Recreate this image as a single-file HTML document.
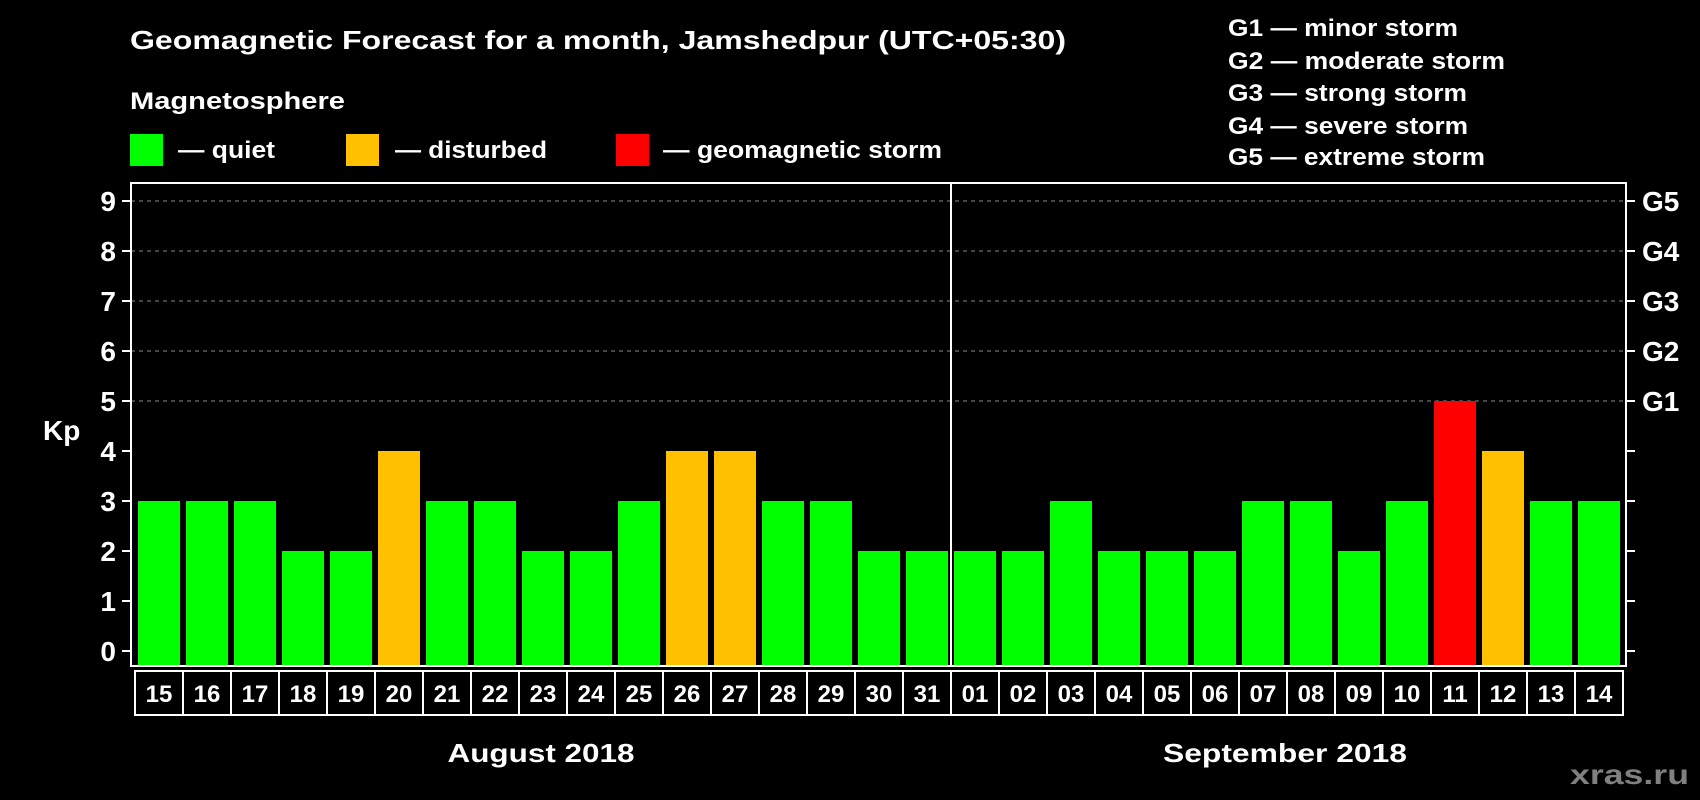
<!DOCTYPE html>
<html><head><meta charset="utf-8"><style>
html,body{margin:0;padding:0;background:#000;}
svg{display:block;font-family:"Liberation Sans",Arial,sans-serif;font-weight:bold;}
</style></head><body>
<svg id="chart" width="1700" height="800" viewBox="0 0 1700 800" xmlns="http://www.w3.org/2000/svg">
<rect width="1700" height="800" fill="#000"/>
<text x="130" y="49" fill="#fff" font-size="26" textLength="936" lengthAdjust="spacingAndGlyphs">Geomagnetic Forecast for a month, Jamshedpur (UTC+05:30)</text>
<text x="130" y="109" fill="#fff" font-size="24" textLength="215" lengthAdjust="spacingAndGlyphs">Magnetosphere</text>
<g><rect x="130" y="134" width="33" height="32" fill="#00ff00"/><text x="178" y="158" fill="#fff" font-size="24" textLength="97" lengthAdjust="spacingAndGlyphs">— quiet</text></g>
<g><rect x="346" y="134" width="33" height="32" fill="#ffc000"/><text x="395" y="158" fill="#fff" font-size="24" textLength="152" lengthAdjust="spacingAndGlyphs">— disturbed</text></g>
<g><rect x="616" y="134" width="33" height="32" fill="#ff0000"/><text x="663" y="158" fill="#fff" font-size="24" textLength="279" lengthAdjust="spacingAndGlyphs">— geomagnetic storm</text></g>
<g fill="#fff" font-size="24">
<text x="1228" y="36" textLength="230" lengthAdjust="spacingAndGlyphs">G1 — minor storm</text>
<text x="1228" y="69" textLength="277" lengthAdjust="spacingAndGlyphs">G2 — moderate storm</text>
<text x="1228" y="101" textLength="239" lengthAdjust="spacingAndGlyphs">G3 — strong storm</text>
<text x="1228" y="134" textLength="240" lengthAdjust="spacingAndGlyphs">G4 — severe storm</text>
<text x="1228" y="165" textLength="257" lengthAdjust="spacingAndGlyphs">G5 — extreme storm</text>
</g>
<g id="grid"></g>
<g id="bars"></g>
<g id="axes"></g>
<text x="43" y="440" fill="#fff" font-size="28">Kp</text>
<text x="541" y="762" fill="#fff" font-size="26" text-anchor="middle" textLength="187" lengthAdjust="spacingAndGlyphs">August 2018</text>
<text x="1285" y="762" fill="#fff" font-size="26" text-anchor="middle" textLength="244" lengthAdjust="spacingAndGlyphs">September 2018</text>
<text x="1570" y="784" fill="#808080" font-size="28" textLength="119" lengthAdjust="spacingAndGlyphs">xras.ru</text>
</svg>
<script>
const days = ["15","16","17","18","19","20","21","22","23","24","25","26","27","28","29","30","31","01","02","03","04","05","06","07","08","09","10","11","12","13","14"];
const kpValues = [3,3,3,2,2,4,3,3,2,2,3,4,4,3,3,2,2,2,2,3,2,2,2,3,3,2,3,5,4,3,3];
const yTicks = [0,1,2,3,4,5,6,7,8,9];
const gLabels = ["G1","G2","G3","G4","G5"];
const gLevels = [5,6,7,8,9];

const NS="http://www.w3.org/2000/svg";
const L=131,R=1626,T=183,B=666;
const Y0=651,UNIT=50;
const X0=138,PITCH=48,BW=42;
function y(v){return Y0-v*UNIT;}
function x(i){return X0+i*PITCH;}
function mk(tag,attrs,parent){const e=document.createElementNS(NS,tag);for(const k in attrs)e.setAttribute(k,attrs[k]);parent.appendChild(e);return e;}
const grid=document.getElementById('grid'),bars=document.getElementById('bars'),axes=document.getElementById('axes');
gLevels.forEach(v=>{
  const ln=mk('line',{x1:L,x2:R,y1:y(v),y2:y(v),stroke:'#8a8a8a','stroke-width':1,'stroke-dasharray':'4,4'},grid);
  
  
});
kpValues.forEach((v,i)=>{
  const c=v>=5?'#ff0000':(v>=4?'#ffc000':'#00ff00');
  const r=mk('rect',{x:x(i),y:y(v),width:BW,height:B-y(v)-1,fill:c},bars);
  
  
});
// frame
const fr=mk('rect',{x:L,y:T,width:R-L,height:B-T,fill:'none',stroke:'#fff','stroke-width':2},axes);


const dv=mk('line',{x1:951,x2:951,y1:T,y2:B,stroke:'#fff','stroke-width':2},axes);


yTicks.forEach(v=>{
  mk('line',{x1:122,x2:L,y1:y(v),y2:y(v),stroke:'#fff','stroke-width':2},axes);
  mk('line',{x1:R,x2:R+9,y1:y(v),y2:y(v),stroke:'#fff','stroke-width':2},axes);
  const t=mk('text',{x:116,y:y(v)+10,fill:'#fff','font-size':28,'text-anchor':'end'},axes);
  t.textContent=v;
  
  
});
gLabels.forEach((g,i)=>{
  const t=mk('text',{x:1642,y:y(gLevels[i])+10,fill:'#fff','font-size':28},axes);
  t.textContent=g;
  
  
});
days.forEach((d,i)=>{
  const bx=x(i)-3;
  const b=mk('rect',{x:bx,y:671,width:PITCH,height:44,fill:'none',stroke:'#fff','stroke-width':2},axes);
  
  
  const t=mk('text',{x:bx+PITCH/2,y:702,fill:'#fff','font-size':24,'text-anchor':'middle'},axes);
  t.textContent=d;
  
  
});
</script>
</body></html>
